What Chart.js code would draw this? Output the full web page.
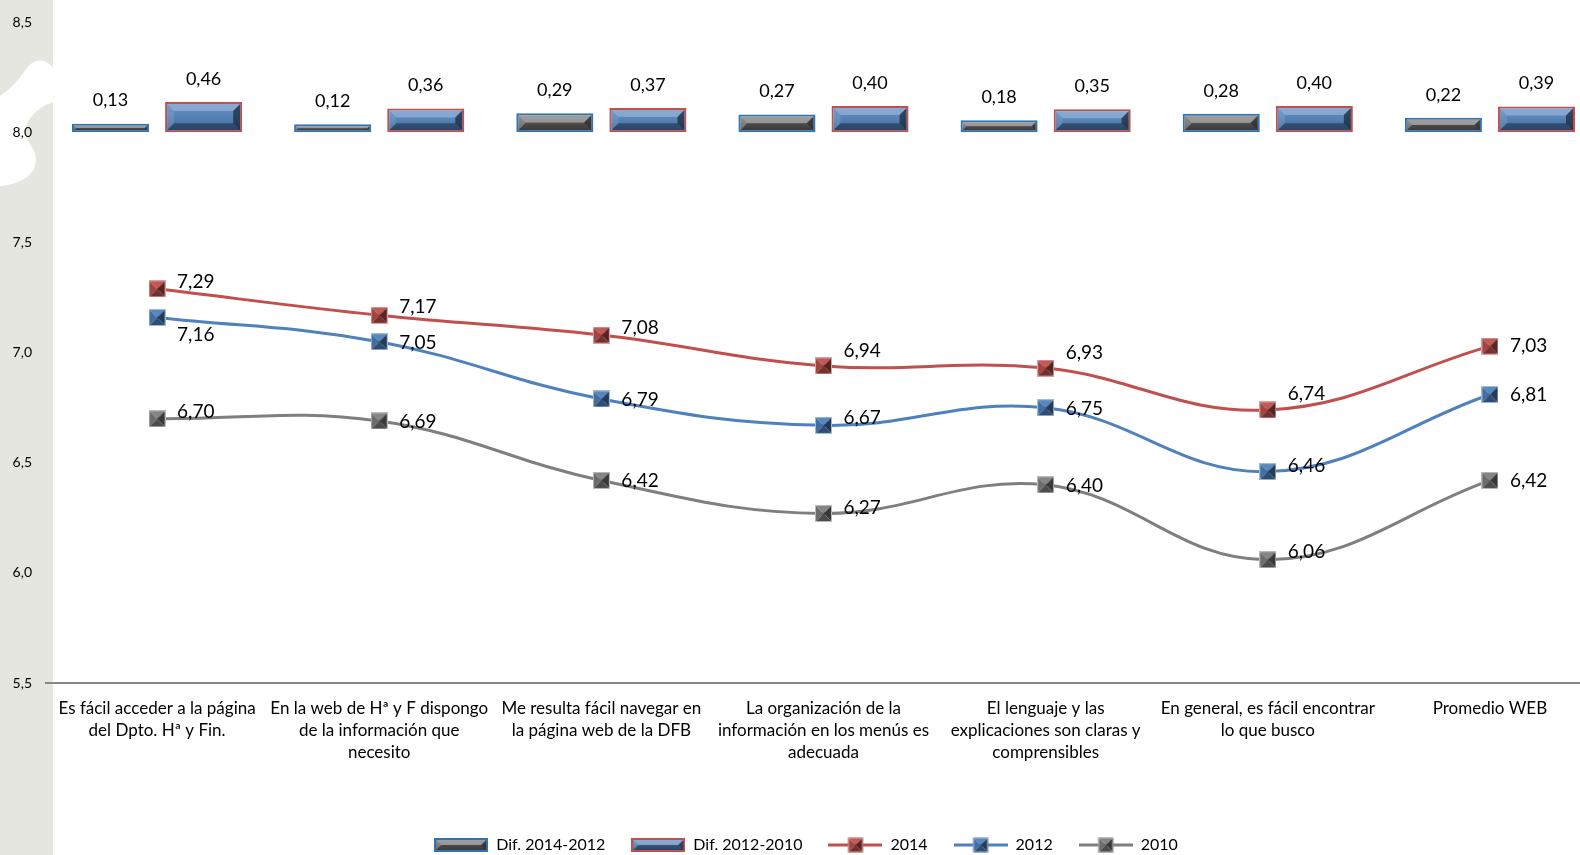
<!DOCTYPE html>
<html>
<head>
<meta charset="utf-8">
<title>Valoración de la página web</title>
<script src="https://cdn.jsdelivr.net/npm/chart.js@4.4.1/dist/chart.umd.min.js"></script>
<style>
  html, body { margin: 0; padding: 0; background: #fff; overflow: hidden; }
  #wrap { width: 1612px; height: 855px; }
</style>
</head>
<body>
<div id="wrap"><canvas id="chart" width="1612" height="855"></canvas></div>
<script>
const categories = [
    ["Es fácil acceder a la página", "del Dpto. Hª y Fin."],
    ["En la web de Hª y F dispongo", "de la información que", "necesito"],
    ["Me resulta fácil navegar en", "la página web de la DFB"],
    ["La organización de la", "información en los menús es", "adecuada"],
    ["El lenguaje y las", "explicaciones son claras y", "comprensibles"],
    ["En general, es fácil encontrar", "lo que busco"],
    ["Promedio WEB"]
];
const dif2014_2012 = [0.13, 0.12, 0.29, 0.27, 0.18, 0.28, 0.22];
const dif2012_2010 = [0.46, 0.36, 0.37, 0.40, 0.35, 0.40, 0.39];
const values2014 = [7.29, 7.17, 7.08, 6.94, 6.93, 6.74, 7.03];
const values2012 = [7.16, 7.05, 6.79, 6.67, 6.75, 6.46, 6.81];
const values2010 = [6.70, 6.69, 6.42, 6.27, 6.40, 6.06, 6.42];
const yTicks = [5.5, 6.0, 6.5, 7.0, 7.5, 8.0, 8.5];

const FONT = "Lato, 'Open Sans', sans-serif";
const RED = '#C0504D';
const BLUE = '#4F81BD';
const GREY = '#7F7F7F';

// vertical nudge of each line label, so they do not sit on the curves
const labelNudge = [
    [-7, -8, -7, -15, -15, -16, 0],
    [17, 1, 1, -7, 1, -6, 0],
    [-7, 1, 0, -6, 1, -8, 0]
];

function fmt(v) {
    return v.toFixed(2).replace('.', ',');
}

function mix(hex, other, t) {
    const a = parseInt(hex.slice(1), 16), b = parseInt(other.slice(1), 16);
    const ch = (n, s) => (n >> s) & 255;
    const r = Math.round(ch(a, 16) + (ch(b, 16) - ch(a, 16)) * t);
    const g = Math.round(ch(a, 8) + (ch(b, 8) - ch(a, 8)) * t);
    const bl = Math.round(ch(a, 0) + (ch(b, 0) - ch(a, 0)) * t);
    return `rgb(${r},${g},${bl})`;
}

function poly(g, pts, style) {
    g.beginPath();
    g.moveTo(pts[0][0], pts[0][1]);
    for (let i = 1; i < pts.length; i++) g.lineTo(pts[i][0], pts[i][1]);
    g.closePath();
    g.fillStyle = style;
    g.fill();
}

// pyramid-looking square marker
function drawMarker(g, cx, cy, s, color) {
    const x0 = cx - s / 2, y0 = cy - s / 2, x1 = cx + s / 2, y1 = cy + s / 2;
    poly(g, [[x0, y0], [x1, y0], [cx, cy]], mix(color, '#ffffff', 0.05));
    poly(g, [[x0, y0], [x0, y1], [cx, cy]], mix(color, '#000000', 0.15));
    poly(g, [[x1, y0], [x1, y1], [cx, cy]], mix(color, '#000000', 0.55));
    poly(g, [[x0, y1], [x1, y1], [cx, cy]], mix(color, '#000000', 0.4));
    g.strokeStyle = mix(color, '#ffffff', 0.45);
    g.lineWidth = 1;
    g.strokeRect(x0 + 0.5, y0 + 0.5, s - 1, s - 1);
}

function markerImage(color) {
    const c = document.createElement('canvas');
    c.width = 17; c.height = 17;
    drawMarker(c.getContext('2d'), 8.5, 8.5, 17, color);
    return c;
}

// light/dark edges over a flat rectangle
function bevel(g, x, y, w, h, inset) {
    const x0 = x + inset, y0 = y + inset, x1 = x + w - inset, y1 = y + h - inset;
    if (x1 <= x0 || y1 <= y0) return;
    const d = Math.max(1, Math.min(7, (y1 - y0) / 2, (x1 - x0) / 2));
    const grad = g.createLinearGradient(0, y0, 0, y1);
    grad.addColorStop(0, 'rgba(255,255,255,0.10)');
    grad.addColorStop(1, 'rgba(0,0,0,0.18)');
    g.fillStyle = grad;
    g.fillRect(x0, y0, x1 - x0, y1 - y0);
    poly(g, [[x0, y0], [x1, y0], [x1 - d, y0 + d], [x0 + d, y0 + d]], 'rgba(255,255,255,0.25)');
    poly(g, [[x0, y0], [x0 + d, y0 + d], [x0 + d, y1 - d], [x0, y1]], 'rgba(255,255,255,0.10)');
    poly(g, [[x1, y0], [x1, y1], [x1 - d, y1 - d], [x1 - d, y0 + d]], 'rgba(0,0,0,0.5)');
    poly(g, [[x0, y1], [x1, y1], [x1 - d, y1 - d], [x0 + d, y1 - d]], 'rgba(0,0,0,0.35)');
}

function barIcon(fill, border) {
    const c = document.createElement('canvas');
    c.width = 54; c.height = 14;
    const g = c.getContext('2d');
    g.fillStyle = border;
    g.fillRect(0, 0, 54, 14);
    g.fillStyle = fill;
    g.fillRect(2, 2, 50, 10);
    bevel(g, 0, 0, 54, 14, 2);
    return c;
}

function lineIcon(color) {
    const c = document.createElement('canvas');
    c.width = 54; c.height = 16;
    const g = c.getContext('2d');
    g.strokeStyle = color;
    g.lineWidth = 3;
    g.beginPath();
    g.moveTo(0, 8);
    g.lineTo(54, 8);
    g.stroke();
    drawMarker(g, 27, 8, 15, color);
    return c;
}

const legendIcons = [
    barIcon('#6F6F6F', '#2E75B6'),
    barIcon(BLUE, RED),
    lineIcon(RED),
    lineIcon(BLUE),
    lineIcon(GREY)
];

// grey strip behind the value axis, with its white swoosh
const backdrop = {
    id: 'backdrop',
    beforeDraw(chart) {
        const g = chart.ctx;
        g.save();
        g.fillStyle = '#fff';
        g.fillRect(0, 0, chart.width, chart.height);
        g.fillStyle = '#E6E6E1';
        g.fillRect(0, 0, 53, chart.height);
        g.fillStyle = '#fff';
        g.beginPath();
        g.moveTo(53, 68);
        g.bezierCurveTo(46, 58, 34, 58, 27, 68);
        g.bezierCurveTo(20, 78, 10, 90, 0, 96);
        g.lineTo(0, 186);
        g.bezierCurveTo(22, 184, 37, 174, 36, 158);
        g.bezierCurveTo(35, 146, 24, 142, 26, 128);
        g.bezierCurveTo(29, 114, 42, 106, 53, 102);
        g.closePath();
        g.fill();
        g.restore();
    }
};

// bevel on the bars and every value label
const decorations = {
    id: 'decorations',
    afterDatasetsDraw(chart) {
        const g = chart.ctx;
        g.save();
        chart.data.datasets.forEach((ds, di) => {
            const meta = chart.getDatasetMeta(di);
            meta.data.forEach((el, i) => {
                const p = el.getProps(['x', 'y', 'base', 'width'], true);
                g.fillStyle = '#000';
                if (ds.type !== 'line') {
                    const top = Math.min(p.y, p.base), h = Math.abs(p.base - p.y);
                    bevel(g, p.x - p.width / 2, top, p.width, h, 2);
                    g.fillStyle = '#000';
                    g.font = `18px ${FONT}`;
                    g.textAlign = 'center';
                    g.textBaseline = 'middle';
                    g.fillText(fmt(ds.data[i]), p.x, top - 23);
                } else {
                    g.font = `19px ${FONT}`;
                    g.textAlign = 'left';
                    g.textBaseline = 'middle';
                    g.fillText(fmt(ds.data[i]), p.x + 20, p.y + labelNudge[di - 2][i]);
                }
            });
        });
        g.restore();
    }
};

function lineSet(label, data, color) {
    return {
        type: 'line',
        label: label,
        data: data,
        yAxisID: 'y',
        borderColor: color,
        borderWidth: 3,
        tension: 0.4,
        pointStyle: markerImage(color),
        pointRadius: 8,
        order: 0
    };
}

new Chart(document.getElementById('chart'), {
    type: 'bar',
    data: {
        labels: categories,
        datasets: [
            {
                label: 'Dif. 2014-2012',
                data: dif2014_2012,
                yAxisID: 'y2',
                backgroundColor: '#6F6F6F',
                borderColor: '#2E75B6',
                borderWidth: 2,
                borderSkipped: false,
                categoryPercentage: 0.838,
                barPercentage: 0.828,
                order: 1
            },
            {
                label: 'Dif. 2012-2010',
                data: dif2012_2010,
                yAxisID: 'y2',
                backgroundColor: BLUE,
                borderColor: RED,
                borderWidth: 2,
                borderSkipped: false,
                categoryPercentage: 0.838,
                barPercentage: 0.828,
                order: 1
            },
            lineSet('2014', values2014, RED),
            lineSet('2012', values2012, BLUE),
            lineSet('2010', values2010, GREY)
        ]
    },
    options: {
        responsive: false,
        animation: false,
        layout: { padding: { top: 18, right: 0, bottom: -8, left: 0 } },
        plugins: {
            tooltip: { enabled: false },
            legend: {
                position: 'bottom',
                labels: {
                    usePointStyle: true,
                    pointStyleWidth: 54,
                    padding: 26,
                    color: '#000',
                    font: { family: FONT, size: 16 },
                    generateLabels: chart => chart.data.datasets.map((ds, i) => ({
                        text: ds.label,
                        pointStyle: legendIcons[i],
                        datasetIndex: i,
                        hidden: false,
                        lineWidth: 0,
                        fillStyle: 'transparent',
                        strokeStyle: 'transparent'
                    }))
                }
            }
        },
        scales: {
            x: {
                grid: { display: false, drawTicks: false },
                border: { display: true, color: '#878787', width: 2 },
                ticks: {
                    color: '#000',
                    font: { family: FONT, size: 17, lineHeight: 1.3 },
                    padding: 14,
                    maxRotation: 0,
                    autoSkip: false
                },
                afterFit: scale => { scale.height = 128; }
            },
            y: {
                position: 'left',
                min: yTicks[0],
                max: yTicks[yTicks.length - 1],
                grid: { display: false, drawTicks: false },
                border: { display: false },
                ticks: {
                    stepSize: 0.5,
                    color: '#000',
                    padding: 14,
                    font: { family: FONT, size: 14 },
                    callback: v => v.toFixed(1).replace('.', ',')
                },
                afterFit: scale => { scale.width = 46; }
            },
            y2: {
                display: false,
                min: -8.40,
                max: 1.674
            }
        }
    },
    plugins: [backdrop, decorations]
});
</script>
</body>
</html>
